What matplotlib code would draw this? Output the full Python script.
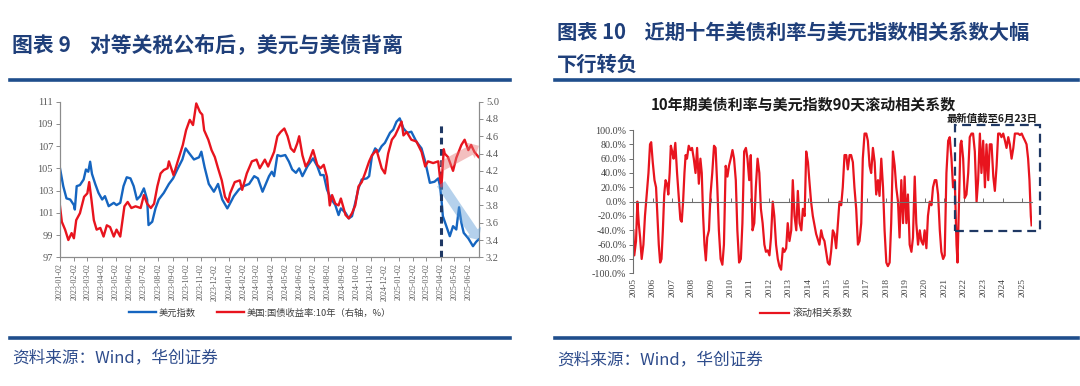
import matplotlib
matplotlib.use("Agg")
import matplotlib.pyplot as plt
import pandas as pd
from matplotlib.lines import Line2D
from matplotlib.patches import Rectangle
from matplotlib.ticker import FuncFormatter, FixedLocator

plt.rcParams['font.family'] = ['Noto Sans CJK SC', 'DejaVu Sans']

# ---------------- data: left chart ----------------
dxy_dates = [
    "2023-01-02", "2023-01-09", "2023-01-16", "2023-01-24", "2023-02-01", "2023-02-03",
    "2023-02-07", "2023-02-14", "2023-02-22", "2023-02-27", "2023-03-04", "2023-03-08",
    "2023-03-12", "2023-03-19", "2023-03-26", "2023-04-03", "2023-04-09", "2023-04-17",
    "2023-04-28", "2023-05-04", "2023-05-12", "2023-05-19", "2023-05-26", "2023-06-03",
    "2023-06-10", "2023-06-17", "2023-06-24", "2023-07-02", "2023-07-09", "2023-07-12",
    "2023-07-20", "2023-07-27", "2023-08-03", "2023-08-14", "2023-08-25", "2023-09-03",
    "2023-09-12", "2023-09-23", "2023-09-30", "2023-10-07", "2023-10-18", "2023-10-29",
    "2023-11-03", "2023-11-10", "2023-11-19", "2023-11-30", "2023-12-09", "2023-12-18",
    "2023-12-29", "2024-01-02", "2024-01-12", "2024-01-23", "2024-02-02", "2024-02-14",
    "2024-02-25", "2024-03-04", "2024-03-14", "2024-03-21", "2024-03-28", "2024-04-03",
    "2024-04-08", "2024-04-15", "2024-04-22", "2024-05-02", "2024-05-10", "2024-05-17",
    "2024-05-25", "2024-06-01", "2024-06-08", "2024-06-19", "2024-07-01", "2024-07-10",
    "2024-07-17", "2024-07-24", "2024-07-31", "2024-08-08", "2024-08-18", "2024-08-25",
    "2024-08-30", "2024-09-09", "2024-09-16", "2024-09-23", "2024-09-30", "2024-10-07",
    "2024-10-14", "2024-10-25", "2024-10-30", "2024-11-05", "2024-11-12", "2024-11-19",
    "2024-11-26", "2024-12-03", "2024-12-14", "2024-12-21", "2024-12-28", "2025-01-04",
    "2025-01-12", "2025-01-20", "2025-01-29", "2025-02-09", "2025-02-20", "2025-02-28",
    "2025-03-10", "2025-03-20", "2025-03-28", "2025-04-01", "2025-04-04", "2025-04-07",
    "2025-04-12", "2025-04-22", "2025-04-29", "2025-05-06", "2025-05-12", "2025-05-17",
    "2025-05-22", "2025-06-01", "2025-06-11", "2025-06-18", "2025-06-23",
]
dxy_values = [
    105.0, 103.4, 102.3, 102.2, 101.7, 101.3,
    103.4, 103.5, 104.0, 104.9, 104.7, 105.6,
    104.5, 103.6, 102.8, 102.2, 102.5, 101.6,
    101.9, 101.7, 101.9, 103.4, 104.2, 104.1,
    103.4, 102.2, 102.5, 103.2, 102.2, 99.9,
    100.2, 101.4, 102.2, 102.8, 103.6, 104.1,
    104.9, 105.8, 106.8, 106.4, 105.8, 106.0,
    106.5, 105.1, 103.6, 102.9, 103.6, 102.2,
    101.4, 101.7, 102.5, 103.1, 103.4, 103.6,
    104.3, 104.1, 102.9, 103.6, 104.3, 104.7,
    104.3, 106.2, 106.1, 106.2, 105.6, 104.9,
    104.6, 105.0, 104.3, 105.2, 105.9, 105.2,
    104.4, 104.4, 103.1, 102.3, 101.7, 100.8,
    101.4, 101.0, 100.5, 100.7, 101.9, 103.2,
    104.0, 104.1, 104.3, 106.1, 106.8, 106.5,
    107.0, 107.3, 108.2, 108.5, 109.2, 109.5,
    108.6, 108.2, 108.3, 107.4, 106.8, 105.6,
    103.7, 103.8, 104.1, 103.4, 102.2, 100.7,
    100.1, 98.9, 99.8, 99.5, 101.5, 100.1,
    99.2, 98.7, 98.0, 98.4, 98.6,
]

ust_dates = [
    "2023-01-02", "2023-01-06", "2023-01-13", "2023-01-20", "2023-01-27", "2023-02-01",
    "2023-02-06", "2023-02-14", "2023-02-23", "2023-03-02", "2023-03-06", "2023-03-11",
    "2023-03-16", "2023-03-22", "2023-03-30", "2023-04-06", "2023-04-13", "2023-04-20",
    "2023-04-28", "2023-05-04", "2023-05-12", "2023-05-21", "2023-05-28", "2023-06-05",
    "2023-06-14", "2023-06-25", "2023-07-02", "2023-07-09", "2023-07-17", "2023-07-24",
    "2023-07-31", "2023-08-07", "2023-08-14", "2023-08-22", "2023-08-25", "2023-09-04",
    "2023-09-13", "2023-09-24", "2023-10-01", "2023-10-09", "2023-10-16", "2023-10-23",
    "2023-10-31", "2023-11-05", "2023-11-09", "2023-11-18", "2023-11-25", "2023-12-02",
    "2023-12-09", "2023-12-17", "2023-12-24", "2023-12-31", "2024-01-04", "2024-01-14",
    "2024-01-25", "2024-01-30", "2024-02-09", "2024-02-20", "2024-03-01", "2024-03-08",
    "2024-03-19", "2024-03-26", "2024-04-01", "2024-04-08", "2024-04-15", "2024-04-22",
    "2024-04-30", "2024-05-07", "2024-05-14", "2024-05-21", "2024-05-28", "2024-06-01",
    "2024-06-08", "2024-06-15", "2024-06-22", "2024-07-01", "2024-07-10", "2024-07-17",
    "2024-07-24", "2024-07-31", "2024-08-06", "2024-08-11", "2024-08-18", "2024-08-25",
    "2024-08-30", "2024-09-09", "2024-09-16", "2024-09-23", "2024-09-30", "2024-10-07",
    "2024-10-14", "2024-10-21", "2024-10-30", "2024-11-05", "2024-11-15", "2024-11-26",
    "2024-12-03", "2024-12-10", "2024-12-18", "2024-12-25", "2025-01-01", "2025-01-08",
    "2025-01-12", "2025-01-19", "2025-01-29", "2025-02-09", "2025-02-20", "2025-02-28",
    "2025-03-06", "2025-03-17", "2025-03-28", "2025-04-01", "2025-04-04", "2025-04-09",
    "2025-04-11", "2025-04-18", "2025-04-29", "2025-05-06", "2025-05-17", "2025-05-24",
    "2025-06-01", "2025-06-07", "2025-06-14", "2025-06-23",
]
ust_values = [
    3.79, 3.61, 3.52, 3.40, 3.48, 3.42,
    3.63, 3.71, 3.90, 3.94, 4.07, 3.86,
    3.63, 3.52, 3.54, 3.44, 3.57, 3.55,
    3.44, 3.52, 3.44, 3.79, 3.84, 3.77,
    3.79, 3.77, 3.92, 3.82, 3.77, 3.82,
    4.02, 4.17, 4.21, 4.23, 4.31, 4.15,
    4.31, 4.50, 4.67, 4.79, 4.73, 4.98,
    4.88, 4.85, 4.67, 4.56, 4.44, 4.36,
    4.23, 4.09, 3.90, 3.84, 3.94, 4.07,
    4.09, 3.98, 4.17, 4.31, 4.33, 4.23,
    4.33, 4.25, 4.33, 4.42, 4.60, 4.65,
    4.69, 4.60, 4.46, 4.42, 4.52, 4.60,
    4.38, 4.25, 4.31, 4.44, 4.27, 4.23,
    4.27, 4.13, 3.80, 3.92, 3.82, 3.80,
    3.88, 3.69, 3.65, 3.71, 3.80, 4.02,
    4.07, 4.17, 4.31, 4.38, 4.44, 4.23,
    4.17, 4.40, 4.56, 4.61, 4.69, 4.77,
    4.61, 4.65, 4.56, 4.54, 4.42, 4.25,
    4.31, 4.29, 4.31, 4.11, 4.02, 4.45,
    4.40, 4.36, 4.20, 4.35, 4.50, 4.56,
    4.44, 4.50, 4.42, 4.36,
]

tariff_date = "2025-04-02"        # dashed marker: reciprocal tariffs announced
tariff_line_top = 109.2
blue_arrow = (("2025-04-03", 4.05), ("2025-06-24", 3.40))
red_arrow = (("2025-04-03", 4.25), ("2025-06-24", 4.49))

# ---------------- data: right chart ----------------
corr_years = [
    2005.00, 2005.05, 2005.14, 2005.21, 2005.28, 2005.35, 2005.43, 2005.52, 2005.60, 2005.69,
    2005.78, 2005.86, 2005.92, 2006.00, 2006.09, 2006.17, 2006.24, 2006.31, 2006.38, 2006.45,
    2006.52, 2006.59, 2006.66, 2006.73, 2006.80, 2006.87, 2006.93, 2007.00, 2007.07, 2007.16,
    2007.25, 2007.33, 2007.42, 2007.49, 2007.56, 2007.63, 2007.69, 2007.76, 2007.85, 2007.94,
    2008.02, 2008.11, 2008.20, 2008.28, 2008.37, 2008.45, 2008.52, 2008.59, 2008.66, 2008.73,
    2008.80, 2008.89, 2008.97, 2009.06, 2009.15, 2009.23, 2009.32, 2009.40, 2009.49, 2009.58,
    2009.66, 2009.75, 2009.84, 2009.92, 2010.01, 2010.10, 2010.18, 2010.27, 2010.35, 2010.44,
    2010.53, 2010.61, 2010.70, 2010.79, 2010.87, 2010.96, 2011.04, 2011.13, 2011.22, 2011.30,
    2011.39, 2011.48, 2011.56, 2011.65, 2011.74, 2011.82, 2011.91, 2012.00, 2012.08, 2012.17,
    2012.25, 2012.34, 2012.43, 2012.51, 2012.60, 2012.69, 2012.77, 2012.86, 2012.94, 2013.03,
    2013.12, 2013.20, 2013.29, 2013.38, 2013.46, 2013.55, 2013.64, 2013.72, 2013.81, 2013.89,
    2013.98, 2014.05, 2014.14, 2014.23, 2014.40, 2014.57, 2014.66, 2014.74, 2014.83, 2015.00,
    2015.09, 2015.17, 2015.26, 2015.34, 2015.43, 2015.52, 2015.60, 2015.69, 2015.77, 2015.86,
    2015.95, 2016.03, 2016.12, 2016.20, 2016.29, 2016.37, 2016.46, 2016.55, 2016.63, 2016.72,
    2016.80, 2016.89, 2016.98, 2017.06, 2017.15, 2017.23, 2017.32, 2017.41, 2017.49, 2017.58,
    2017.66, 2017.75, 2017.84, 2017.92, 2018.01, 2018.09, 2018.18, 2018.26, 2018.35, 2018.44,
    2018.52, 2018.61, 2018.69, 2018.78, 2018.87, 2018.95, 2019.04, 2019.12, 2019.21, 2019.30,
    2019.38, 2019.47, 2019.55, 2019.64, 2019.73, 2019.81, 2019.90, 2019.98, 2020.07, 2020.15,
    2020.24, 2020.33, 2020.41, 2020.50, 2020.58, 2020.67, 2020.76, 2020.84, 2020.93, 2021.01,
    2021.10, 2021.19, 2021.27, 2021.36, 2021.44, 2021.53, 2021.62, 2021.67, 2021.75, 2021.82,
    2021.87, 2021.96, 2022.04, 2022.13, 2022.22, 2022.30, 2022.39, 2022.47, 2022.56, 2022.65,
    2022.73, 2022.82, 2022.90, 2022.99, 2023.08, 2023.16, 2023.25, 2023.33, 2023.42, 2023.51,
    2023.59, 2023.68, 2023.76, 2023.85, 2023.93, 2024.02, 2024.11, 2024.19, 2024.28, 2024.36,
    2024.45, 2024.54, 2024.62, 2024.71, 2024.79, 2024.88, 2024.97, 2025.05, 2025.14, 2025.22,
    2025.30, 2025.37, 2025.44, 2025.48,
]
corr_values = [
    -40, -75, -55, 0, -30, -50, -80, -60, -20, 10,
    40, 80, 83, 55, 30, 20, -20, -60, -85, -80,
    -40, 10, 30, 25, 10, 40, 78, 70, 60, 82,
    40, 10, -25, -28, 0, 40, 65, 60, 78, 72,
    75, 60, 40, 75, 25, 60, 40, -20, -60, -82,
    -50, -40, 10, 40, 78, 75, 20, -40, -80, -88,
    -60, 50, 35, 50, 60, 72, 60, 30, -40, -85,
    -80, -30, 70, 75, 60, 30, 65, -40, -30, 20,
    60, 40, -10, -30, -60, -70, -68, -75, -50, 0,
    -20, -60, -80, -90, -95, -65, -70, -65, -30, -55,
    -40, 30, -20, -40, 15, -30, -40, -10, -20, 70,
    55, 30, 0, -20, -45, -60, -40, -50, -55, -85,
    -88, -70, -40, -45, -65, -30, 0, -5, 20, 65,
    65, 45, 65, 65, 55, 20, -10, -60, -55, -30,
    60, 95, 95, 85, 50, 40, 75, 55, 10, 30,
    8, 60, 20, -40, -85, -90, -85, -30, 70, 50,
    20, 0, -50, 30, -30, 35, -30, 10, -60, -70,
    -50, 35, -30, -60, -40, -55, -60, -40, -65, -20,
    0, -5, 20, 30, 30, 10, -40, -70, -80, -75,
    40, 85, 90, 60, 20, 30, -60, -85, 0, 80,
    85, 60, 5, 10, 40, 90, 95, 95, 70, 0,
    30, 95, 40, 85, 20, 80, 30, 80, 80, 35,
    15, 50, 95, 95, 90, 95, 85, 75, 90, 80,
    60, 75, 95, 95, 95, 93, 95, 90, 85, 80,
    60, 30, -20, -33,
]
corr_year_ticks = list(range(2005, 2026))
latest_box = (2021.53, 2025.91, -41, 107)   # x0, x1, y0, y1 of the dashed highlight

# ---------------- styles ----------------
BLUE = "#1565C0"
RED = "#E8141E"
NAVY = "#1F3F7A"
RULE = "#1F4E8C"
GREY = "#595959"
SERIF = ["Liberation Serif", "DejaVu Serif"]
W, H = 1080, 386

fig = plt.figure(figsize=(10.8, 3.86), dpi=100)


def fx(px):
    return px / W


def fy(py):
    return 1 - py / H


# headers
fig.text(fx(12), fy(45), "图表 9    对等关税公布后，美元与美债背离", fontsize=15,
         fontweight="bold", color=NAVY, va="center", ha="left")
fig.text(fx(557), fy(33), "图表 10    近期十年美债利率与美元指数相关系数大幅", fontsize=14.6,
         fontweight="bold", color=NAVY, va="center", ha="left")
fig.text(fx(557), fy(64), "下行转负", fontsize=14.6, fontweight="bold", color=NAVY,
         va="center", ha="left")
for x0, x1 in [(10, 510), (555, 1078)]:
    fig.add_artist(Line2D([fx(x0), fx(x1)], [fy(80), fy(80)], color=RULE, lw=2.6))
    fig.add_artist(Line2D([fx(x0), fx(x1)], [fy(338), fy(338)], color=RULE, lw=2.6))
fig.text(fx(12), fy(358), "资料来源：Wind，华创证券", fontsize=12, color="#2E4C8C",
         va="center", ha="left", style="italic")
fig.text(fx(557), fy(360), "资料来源：Wind，华创证券", fontsize=12, color="#2E4C8C",
         va="center", ha="left", style="italic")

# ---------------- left chart ----------------
ax = fig.add_axes([fx(60), fy(257.3), fx(479 - 60), (257.3 - 101.7) / H])
ax2 = ax.twinx()
l1, = ax.plot(pd.to_datetime(dxy_dates), dxy_values, color=BLUE, lw=1.7, label="美元指数")
l2, = ax2.plot(pd.to_datetime(ust_dates), ust_values, color=RED, lw=1.7,
               label="美国:国债收益率:10年（右轴，%）")
ax.set_ylim(97, 111)
ax2.set_ylim(3.2, 5.0)
ax.set_xlim(pd.Timestamp("2023-01-02"), pd.Timestamp("2025-06-24"))
ax.set_yticks(range(97, 112, 2))
ax2.set_yticks([3.2 + 0.2 * i for i in range(10)])
ax2.yaxis.set_major_formatter(FuncFormatter(lambda v, p: f"{v:.1f}"))
month_ticks = pd.date_range("2023-01-01", "2025-06-01", freq="MS") + pd.Timedelta(days=1)
ax.set_xticks(month_ticks)
ax.set_xticklabels([d.strftime("%Y-%m-%d") for d in month_ticks], rotation=90)
for a in (ax, ax2):
    a.spines["top"].set_visible(False)
    for s in ("left", "right", "bottom"):
        a.spines[s].set_color("#8C8C8C")
        a.spines[s].set_linewidth(0.8)
    a.tick_params(colors="#8C8C8C", labelcolor=GREY, length=3, width=0.7)
ax.tick_params(axis="x", labelsize=5.8, pad=1.5)
ax.tick_params(axis="y", labelsize=7.5, pad=2)
ax2.tick_params(axis="y", labelsize=7.5, pad=2)
for lab in ax.get_xticklabels() + ax.get_yticklabels() + ax2.get_yticklabels():
    lab.set_fontfamily(SERIF)

# dashed marker
ax.plot([pd.Timestamp(tariff_date)] * 2, [97, tariff_line_top], color="#1F3864", lw=2.2,
        dashes=(2.2, 1.5), zorder=5)
# trend arrows
for (s, e), col in [(blue_arrow, "#5B9BD5"), (red_arrow, "#E57373")]:
    ax2.annotate("", xy=(pd.Timestamp(e[0]), e[1]), xytext=(pd.Timestamp(s[0]), s[1]),
                 arrowprops=dict(arrowstyle="simple,head_length=0.7,head_width=1.3,tail_width=0.7",
                                 color=col, alpha=0.45, lw=0, shrinkA=0, shrinkB=0),
                 annotation_clip=False, zorder=6)

fig.legend(handles=[l1, l2], loc="center", bbox_to_anchor=(fx(260), fy(313)), ncol=2,
           frameon=False, fontsize=6.7, handlelength=2.9, handletextpad=0.35,
           columnspacing=2.2, labelcolor="#404040")

# ---------------- right chart ----------------
ax3 = fig.add_axes([fx(633.3), fy(273.3), fx(1032 - 633.3), (273.3 - 130) / H])
l3, = ax3.plot(corr_years, corr_values, color=RED, lw=1.6, label="滚动相关系数")
ax3.set_xlim(2005, 2025.5)
ax3.set_ylim(-100, 100)
ax3.set_yticks(range(-100, 101, 20))
ax3.yaxis.set_major_formatter(FuncFormatter(lambda v, p: f"{v:.1f}%"))
ax3.spines["top"].set_visible(False)
ax3.spines["right"].set_visible(False)
ax3.spines["bottom"].set_position(("data", 0))
for s in ("left", "bottom"):
    ax3.spines[s].set_color("#6E6E6E")
    ax3.spines[s].set_linewidth(0.8)
ax3.xaxis.set_major_locator(FixedLocator(corr_year_ticks))
ax3.tick_params(axis="x", labelbottom=False, length=3, width=0.7, colors="#6E6E6E",
                direction="in")
ax3.tick_params(axis="y", labelsize=7.2, length=3, width=0.7, colors="#6E6E6E",
                labelcolor="#404040", pad=2)
for lab in ax3.get_yticklabels():
    lab.set_fontfamily(SERIF)
for yr in corr_year_ticks:
    ax3.text(yr, -0.035, str(yr), transform=ax3.get_xaxis_transform(), rotation=90,
             ha="center", va="top", fontsize=6.8, color="#404040", family=SERIF)

bx0, bx1, by0, by1 = latest_box
ax3.add_patch(Rectangle((bx0, by0), bx1 - bx0, by1 - by0, fill=False, edgecolor="#1F3864",
                        lw=1.6, ls=(0, (4, 2.5)), clip_on=False, zorder=6))
ax3.text(bx0 - 0.4, 116.5, "最新值截至6月23日", fontsize=7.5, fontweight="bold",
         style="italic", ha="left", va="center", color="#1A1A1A", clip_on=False)

fig.text(fx(803), fy(105), "10年期美债利率与美元指数90天滚动相关系数", fontsize=10.8,
         fontweight="bold", ha="center", va="center", color="#1A1A1A")
fig.legend(handles=[l3], loc="center", bbox_to_anchor=(fx(806), fy(313)), frameon=False,
           fontsize=7.2, handlelength=2.9, handletextpad=0.35, labelcolor="#404040")

fig.savefig("out.png", dpi=100)
